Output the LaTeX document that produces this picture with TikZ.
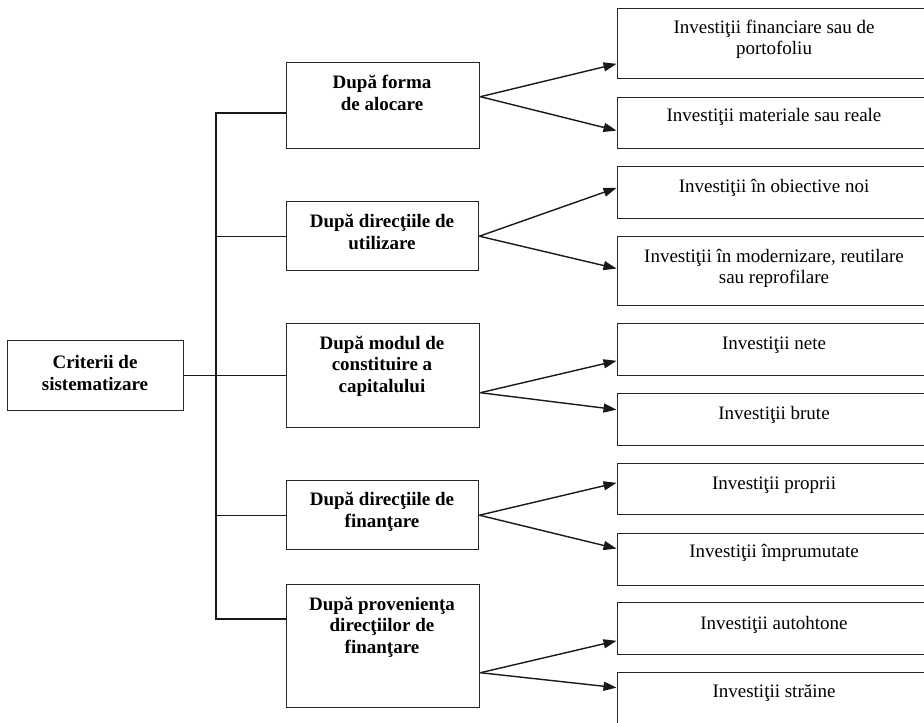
\documentclass[tikz,border=0pt]{standalone}
\usepackage{fontspec}
\setmainfont{Liberation Serif}
\usetikzlibrary{arrows.meta}
\begin{document}
\begin{tikzpicture}[x=1pt,y=-1pt,
  box/.style={draw=black!85, line width=1.4pt, fill=white, inner sep=0pt, anchor=north west},
  txt/.style={inner sep=0pt, align=center, font=\fontsize{19}{21}\selectfont},
  btxt/.style={txt, font=\fontsize{19}{21.5}\selectfont\bfseries},
  ln/.style={line width=1.4pt, draw=black!90, line join=miter},
  arr/.style={ln, -{Triangle[length=13pt,width=9pt]}, shorten >=0.5pt}]
\useasboundingbox (0,0) rectangle (924,723);
\clip (0,0) rectangle (924,723);
\fill[white] (0,0) rectangle (924,723);

% root
\node[box, minimum width=176pt, minimum height=70pt] (root) at (7,340) {};
\node[btxt] (roott) at (95,373) {Criterii de\\sistematizare};

% middle column
\node[box, minimum width=193pt, minimum height=86pt] (b1) at (286,62) {};
\node[btxt] (b1t) at (382,93) {După forma\\de alocare};
\node[box, minimum width=192pt, minimum height=69pt] (b2) at (286,201) {};
\node[btxt] (b2t) at (382,232) {După direcţiile de\\utilizare};
\node[box, minimum width=193pt, minimum height=104pt] (b3) at (286,323) {};
\node[btxt] (b3t) at (382,366) {După modul de\\constituire a\\capitalului};
\node[box, minimum width=192pt, minimum height=69pt] (b4) at (286,480) {};
\node[btxt] (b4t) at (382,512) {După direcţiile de\\finanţare};
\node[box, minimum width=193pt, minimum height=123pt] (b5) at (286,584) {};
\node[btxt] (b5t) at (382,627) {După provenienţa\\direcţiilor de\\finanţare};

% right column
\node[box, minimum width=314pt, minimum height=70pt] (r1) at (617,8) {};
\node[txt] (r1t) at (774,39) {Investiţii financiare sau de\\portofoliu};
\node[box, minimum width=314pt, minimum height=51pt] (r2) at (617,97) {};
\node[txt] (r2t) at (774,117) {Investiţii materiale sau reale};
\node[box, minimum width=314pt, minimum height=52pt] (r3) at (617,166) {};
\node[txt] (r3t) at (774,188) {Investiţii în obiective noi};
\node[box, minimum width=314pt, minimum height=69pt] (r4) at (617,236) {};
\node[txt] (r4t) at (774,268) {Investiţii în modernizare, reutilare\\sau reprofilare};
\node[box, minimum width=314pt, minimum height=52pt] (r5) at (617,323) {};
\node[txt] (r5t) at (774,345) {Investiţii nete};
\node[box, minimum width=314pt, minimum height=52pt] (r6) at (617,393) {};
\node[txt] (r6t) at (774,415) {Investiţii brute};
\node[box, minimum width=314pt, minimum height=51pt] (r7) at (617,463) {};
\node[txt] (r7t) at (774,485) {Investiţii proprii};
\node[box, minimum width=314pt, minimum height=52pt] (r8) at (617,533) {};
\node[txt] (r8t) at (774,553) {Investiţii împrumutate};
\node[box, minimum width=314pt, minimum height=52pt] (r9) at (617,602) {};
\node[txt] (r9t) at (774,625) {Investiţii autohtone};
\node[box, minimum width=314pt, minimum height=63pt] (r10) at (617,672) {};
\node[txt] (r10t) at (774,693) {Investiţii străine};

% trunk
\coordinate (ttop) at (216,113);
\coordinate (tbot) at (216,619);
\draw[ln] (ttop -| b1.west) -- (ttop) -- (tbot) -- (tbot -| b5.west);
\draw[ln] (root.east) -- (b3.west);
\draw[ln] (b2.west -| ttop) -- (b2.west);
\draw[ln] (b4.west -| ttop) -- (b4.west);

% arrows
\draw[arr] ([yshift=9pt]b1.east) -- ([yshift=-20pt]r1.west);
\draw[arr] ([yshift=9pt]b1.east) -- ([yshift=-7.5pt]r2.west);
\draw[arr] (b2.east) -- ([yshift=5pt]r3.west);
\draw[arr] (b2.east) -- ([yshift=2.5pt]r4.west);
\draw[arr] ([yshift=-17pt]b3.east) -- ([yshift=-11pt]r5.west);
\draw[arr] ([yshift=-17pt]b3.east) -- ([yshift=10pt]r6.west);
\draw[arr] (b4.east) -- ([yshift=6.5pt]r7.west);
\draw[arr] (b4.east) -- ([yshift=11pt]r8.west);
\draw[arr] ([yshift=-26.5pt]b5.east) -- ([yshift=-12pt]r9.west);
\draw[arr] ([yshift=-26.5pt]b5.east) -- ([yshift=16.5pt]r10.west);
\end{tikzpicture}
\end{document}
